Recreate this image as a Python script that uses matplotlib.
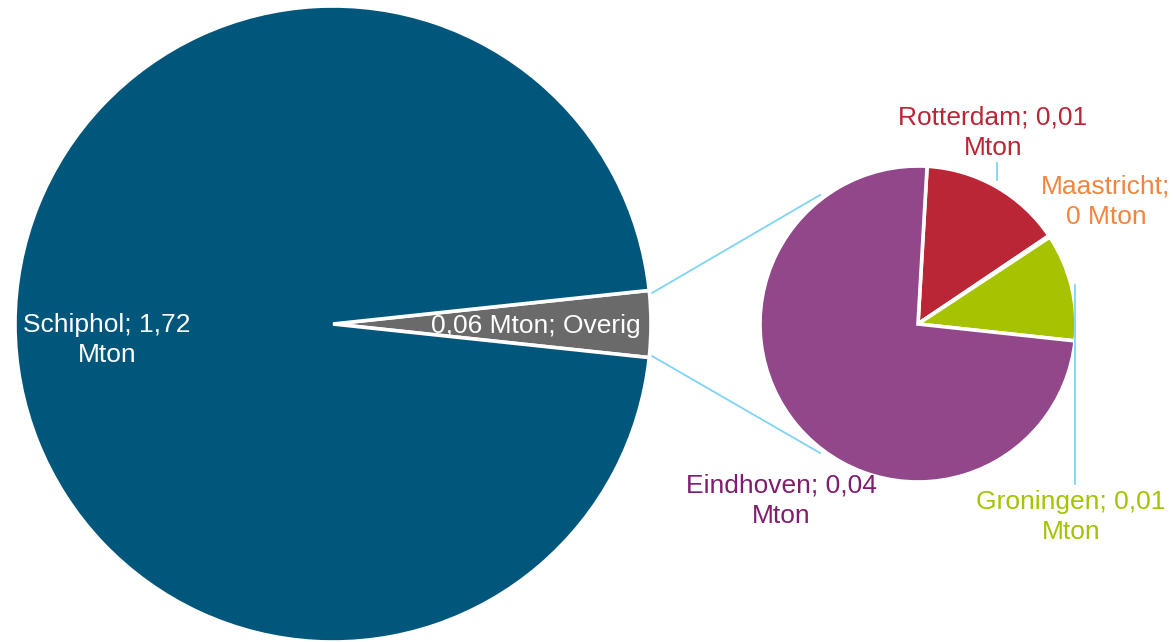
import matplotlib
matplotlib.use("Agg")
import matplotlib.pyplot as plt
import numpy as np

plt.rcParams['font.family'] = ['Liberation Sans', 'DejaVu Sans']

# Data
main_labels = ["Overig", "Schiphol"]
main_values = [0.06, 1.72]
main_colors = ["#6A6A6A", "#01567B"]

sub_labels = ["Rotterdam", "Maastricht", "Groningen", "Eindhoven"]
sub_values = [0.0088, 0.0001, 0.0066, 0.0446]
sub_colors = ["#BB2637", "#F08640", "#A6C200", "#914789"]
sub_label_colors = ["#BB2637", "#F08640", "#A6C200", "#7F1D6F"]
sub_texts = ["Rotterdam; 0,01\nMton", "Maastricht;\n0 Mton", "Groningen; 0,01\nMton", "Eindhoven; 0,04\nMton"]

W, H = 1173, 642
fig = plt.figure(figsize=(W / 100, H / 100), dpi=100)
ax = fig.add_axes([0, 0, 1, 1])

def py(y):
    return H - y

# Main pie
main_c = (333, py(324))
main_r = 318
overig_angle = main_values[0] / sum(main_values) * 360
ax.pie(main_values, colors=main_colors, center=main_c, radius=main_r,
       startangle=-overig_angle / 2, counterclock=True,
       wedgeprops=dict(edgecolor='white', linewidth=2.6), frame=True)

# Secondary pie
sub_c = (918, py(324))
sub_r = 158
ax.pie(sub_values, colors=sub_colors, center=sub_c, radius=sub_r,
       startangle=86.7, counterclock=False,
       wedgeprops=dict(edgecolor='white', linewidth=2.6), frame=True)

ax.set_xlim(0, W)
ax.set_ylim(0, H)
ax.set_aspect('equal')
ax.axis('off')

# Connector lines
line_col = "#7FD3F7"
ax.plot([652, 820], [py(293), py(195)], color=line_col, lw=1.3, zorder=0.5)
ax.plot([652, 820], [py(356), py(453)], color=line_col, lw=1.3, zorder=0.5)

# Leader lines
ax.plot([997, 997], [py(163), py(180)], color=line_col, lw=1.3)
ax.plot([1075, 1075], [py(285), py(484)], color=line_col, lw=1.3)

fs = 19
ls = 1.35
# Main labels
ax.text(107, py(340), "Schiphol; 1,72\nMton", color='white', fontsize=fs,
        ha='center', va='center', linespacing=ls)
ax.text(536, py(326), "0,06 Mton; Overig", color='white', fontsize=fs,
        ha='center', va='center')

# Sub labels
sub_pos = [(993, 133), (1106, 202), (1071, 517), (781, 501)]
for txt, (x, y), col in zip(sub_texts, sub_pos, sub_label_colors):
    ax.text(x, py(y), txt, color=col, fontsize=fs, ha='center', va='center',
            linespacing=ls)

fig.savefig("out.png", dpi=100)
